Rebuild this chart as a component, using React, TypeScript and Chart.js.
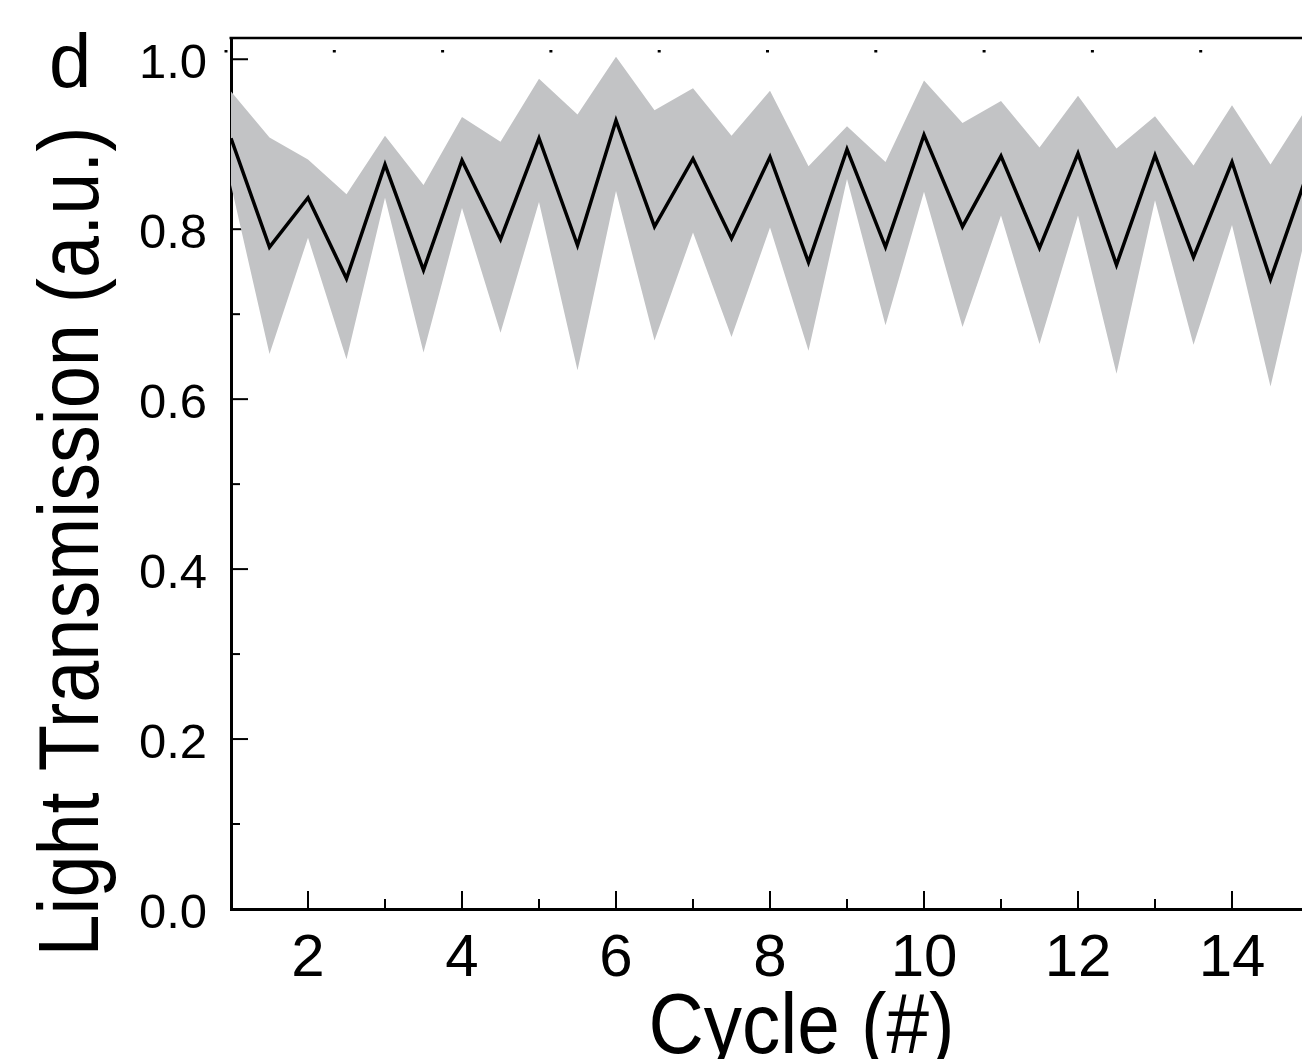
import React, { useEffect, useRef } from "react";
import { Chart, registerables } from "chart.js";

Chart.register(...registerables);

// ---- data ----
const cycles = [1, 1.5, 2, 2.5, 3, 3.5, 4, 4.5, 5, 5.5, 6, 6.5, 7, 7.5, 8, 8.5, 9, 9.5, 10, 10.5, 11, 11.5, 12, 12.5, 13, 13.5, 14, 14.5, 15];
const meanTransmission = [0.907, 0.779, 0.837, 0.742, 0.876, 0.752, 0.881, 0.788, 0.907, 0.781, 0.928, 0.803, 0.883, 0.789, 0.885, 0.761, 0.894, 0.779, 0.911, 0.803, 0.886, 0.778, 0.889, 0.758, 0.887, 0.767, 0.879, 0.741, 0.871];
const upperBound = [0.962, 0.908, 0.882, 0.841, 0.91, 0.852, 0.932, 0.903, 0.977, 0.935, 1.003, 0.94, 0.966, 0.91, 0.963, 0.874, 0.921, 0.879, 0.975, 0.925, 0.951, 0.896, 0.957, 0.895, 0.933, 0.875, 0.946, 0.876, 0.947];
const lowerBound = [0.852, 0.653, 0.79, 0.647, 0.837, 0.655, 0.825, 0.678, 0.832, 0.634, 0.845, 0.669, 0.796, 0.673, 0.802, 0.657, 0.859, 0.687, 0.844, 0.685, 0.816, 0.665, 0.816, 0.63, 0.834, 0.664, 0.805, 0.615, 0.81];

const yTickValues = [0, 0.2, 0.4, 0.6, 0.8, 1.0];
const yMinorTickValues = [0.1, 0.3, 0.5, 0.7, 0.9];
const xTickValues = [2, 4, 6, 8, 10, 12, 14];
const xMinorTickValues = [3, 5, 7, 9, 11, 13, 15];

const xTitle = "Cycle (#)";
const yTitle = "Light Transmission (a.u.)";
const panelLabel = "d";

// ---- styling / layout ----
const FONT = "'Liberation Sans', Arial, Helvetica, sans-serif";
const GRAY = "#c2c3c5";
const W = 1330;
const H = 1059;
const PLOT_LEFT = 231;
const PLOT_TOP = 38;
const PLOT_BOTTOM = 909;
const PLOT_RIGHT = 1309;

const decorPlugin = {
  id: "decor",
  beforeDatasetsDraw(chart: any) {
    const ctx = chart.ctx;
    const { left, right, top, bottom } = chart.chartArea;
    const xs = chart.scales.x;
    const ys = chart.scales.y;
    ctx.save();
    ctx.strokeStyle = "#000";
    ctx.lineWidth = 2;
    const seg = (x1: number, y1: number, x2: number, y2: number) => {
      ctx.beginPath();
      ctx.moveTo(x1, y1);
      ctx.lineTo(x2, y2);
      ctx.stroke();
    };
    for (const v of yTickValues) {
      const py = ys.getPixelForValue(v);
      seg(left, py, left + 17, py);
    }
    for (const v of yMinorTickValues) {
      const py = ys.getPixelForValue(v);
      seg(left, py, left + 9, py);
    }
    for (const v of xTickValues) {
      const px = xs.getPixelForValue(v);
      seg(px, bottom, px, bottom - 18);
    }
    for (const v of xMinorTickValues) {
      const px = xs.getPixelForValue(v);
      seg(px, bottom, px, bottom - 10);
    }
    // top frame line
    ctx.lineWidth = 2.5;
    seg(left - 1.5, top, right, top);
    // small top-axis dots
    ctx.fillStyle = "#000";
    for (let v = 0.935; v <= 15; v += 1.4065) {
      const px = xs.getPixelForValue(v);
      ctx.fillRect(px - 1.5, top + 12, 3, 2.5);
    }
    ctx.restore();
  },
  afterDraw(chart: any) {
    const ctx = chart.ctx;
    const { left, bottom } = chart.chartArea;
    ctx.save();
    ctx.fillStyle = "#000";
    // panel label
    ctx.font = `76px ${FONT}`;
    ctx.textAlign = "left";
    ctx.textBaseline = "alphabetic";
    ctx.fillText(panelLabel, 49, 86.5);
    // x title
    ctx.font = `86px ${FONT}`;
    ctx.textAlign = "center";
    ctx.save();
    ctx.translate(801.5, bottom + 144);
    ctx.scale(0.89, 1);
    ctx.fillText(xTitle, 0, 0);
    ctx.restore();
    // y title
    ctx.save();
    ctx.translate(left - 133, 541.5);
    ctx.rotate(-Math.PI / 2);
    ctx.scale(0.88, 1);
    ctx.fillText(yTitle, 0, 0);
    ctx.restore();
    ctx.restore();
  },
};

export default function App() {
  const ref = useRef<HTMLCanvasElement | null>(null);

  useEffect(() => {
    if (!ref.current) return;
    const pts = (arr: number[]) => cycles.map((c, i) => ({ x: c, y: arr[i] }));
    const chart = new Chart(ref.current, {
      type: "line",
      data: {
        datasets: [
          {
            label: "upper",
            data: pts(upperBound),
            borderWidth: 0,
            borderColor: "rgba(0,0,0,0)",
            backgroundColor: GRAY,
            pointRadius: 0,
            fill: "+1",
            tension: 0,
            order: 2,
          },
          {
            label: "lower",
            data: pts(lowerBound),
            borderWidth: 0,
            borderColor: "rgba(0,0,0,0)",
            backgroundColor: GRAY,
            pointRadius: 0,
            fill: false,
            tension: 0,
            order: 3,
          },
          {
            label: "mean",
            data: pts(meanTransmission),
            borderWidth: 3.5,
            borderColor: "#000",
            pointRadius: 0,
            fill: false,
            tension: 0,
            order: 1,
          },
        ],
      },
      options: {
        animation: false,
        responsive: false,
        events: [],
        layout: { padding: { left: 0, top: PLOT_TOP, right: W - PLOT_RIGHT, bottom: 0 } },
        plugins: { legend: { display: false }, tooltip: { enabled: false }, title: { display: false } },
        scales: {
          x: {
            type: "linear",
            position: "bottom",
            min: 1,
            max: 15,
            afterFit: (s: any) => {
              s.height = H - PLOT_BOTTOM;
              s.paddingLeft = 0;
              s.paddingRight = 0;
            },
            afterBuildTicks: (s: any) => {
              s.ticks = xTickValues.map((v) => ({ value: v }));
            },
            grid: { display: false, drawTicks: false, tickLength: 0 },
            border: { display: true, color: "#000", width: 3 },
            ticks: {
              color: "#000",
              font: { family: FONT, size: 60 },
              padding: 14,
              maxRotation: 0,
              autoSkip: false,
              callback: (v: any) => String(v),
            },
          },
          y: {
            type: "linear",
            position: "left",
            min: 0,
            max: 1.025,
            afterFit: (s: any) => {
              s.width = PLOT_LEFT;
              s.paddingTop = 0;
              s.paddingBottom = 0;
            },
            afterBuildTicks: (s: any) => {
              s.ticks = yTickValues.map((v) => ({ value: v }));
            },
            grid: { display: false, drawTicks: false, tickLength: 0 },
            border: { display: true, color: "#000", width: 3 },
            ticks: {
              color: "#000",
              font: { family: FONT, size: 49 },
              padding: 24,
              labelOffset: 5,
              autoSkip: false,
              callback: (v: any) => Number(v).toFixed(1),
            },
          },
        },
      },
      plugins: [decorPlugin],
    } as any);
    return () => chart.destroy();
  }, []);

  return (
    <div style={{ position: "fixed", left: 0, top: 0, width: 1302, height: 1059, overflow: "hidden", background: "#fff" }}>
      <div style={{ width: W, height: H }}>
        <canvas ref={ref} width={W} height={H} style={{ width: W, height: H, display: "block" }} />
      </div>
    </div>
  );
}
